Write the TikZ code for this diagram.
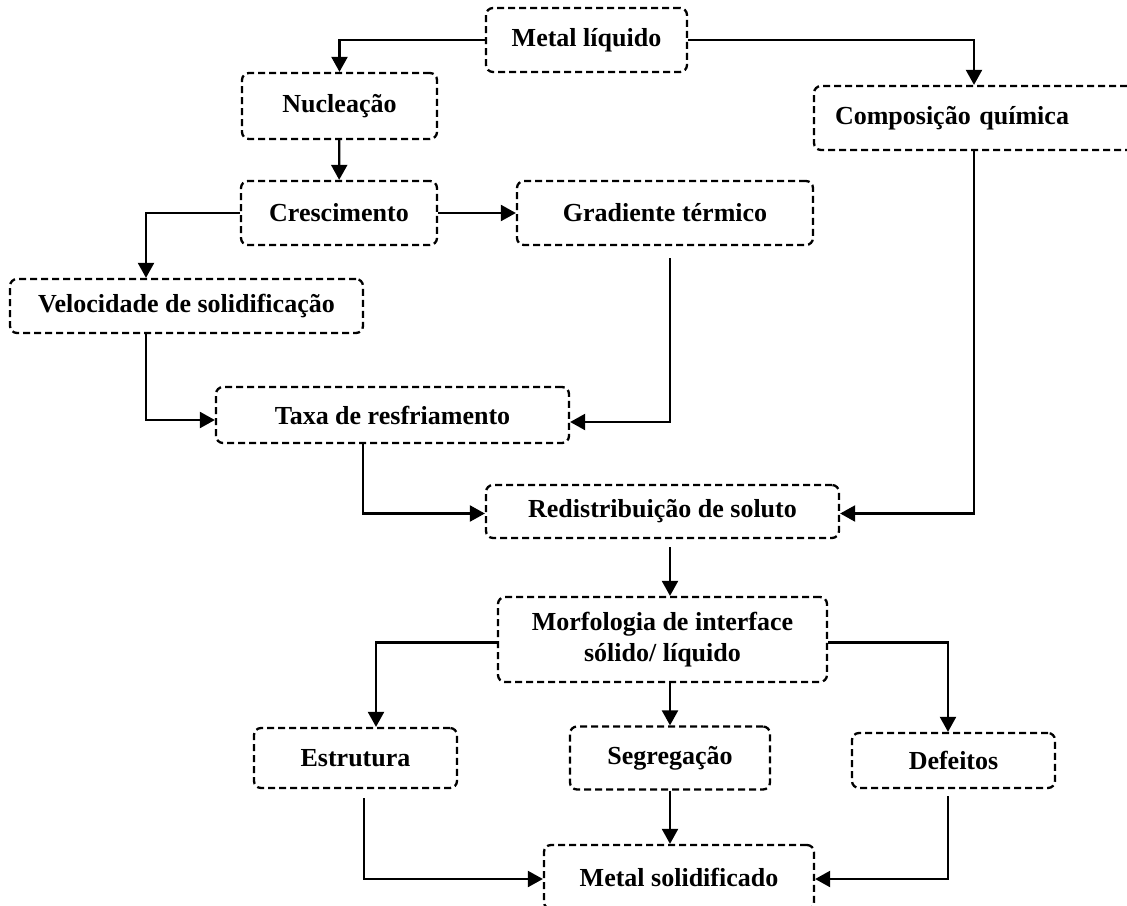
\documentclass[tikz,border=0pt]{standalone}
\usepackage{fontspec}
\setmainfont{Liberation Serif}
\usetikzlibrary{arrows.meta}

\begin{document}
\begin{tikzpicture}[x=1pt,y=-1pt,
  caixa/.style={draw,line width=2.3pt,dash pattern=on 7pt off 4pt,rounded corners=7pt,
    inner sep=0pt,align=center,font=\fontsize{26}{31}\selectfont\bfseries},
  seta/.style={line width=2.3pt,-{Triangle[length=15pt,width=16pt]}}]
\useasboundingbox (0,0) rectangle (1127,905);
\clip (0,0) rectangle (1127,905);

\node[caixa,minimum width=201pt,minimum height=64pt] (liq) at (586.5,40) {Metal líquido};
\node[caixa,minimum width=195pt,minimum height=66pt] (nuc) at (339.5,106) {Nucleação};
\node[caixa,minimum height=64pt,text width=278pt,inner xsep=21pt,align=left] (comp) at (974,118) {Composição química};
\node[caixa,minimum width=196pt,minimum height=64pt] (cres) at (339,213) {Crescimento};
\node[caixa,minimum width=296pt,minimum height=64pt] (grad) at (665,213) {Gradiente térmico};
\node[caixa,minimum width=353pt,minimum height=54pt] (vel) at (186.5,306) {Velocidade de solidificação};
\node[caixa,minimum width=353pt,minimum height=56pt] (taxa) at (392.5,415) {Taxa de resfriamento};
\node[caixa,minimum width=353pt,minimum height=53pt] (red) at (662.5,511.5) {Redistribuição de soluto};
\node[caixa,minimum width=329pt,minimum height=85pt] (morf) at (662.5,639.5) {Morfologia de interface\\sólido/ líquido};
\node[caixa,minimum width=203pt,minimum height=60pt] (est) at (355.5,758) {Estrutura};
\node[caixa,minimum width=200pt,minimum height=63pt] (seg) at (670,758) {Segregação};
\node[caixa,minimum width=203pt,minimum height=55pt] (def) at (953.5,760.5) {Defeitos};
\node[caixa,minimum width=270pt,minimum height=64pt] (sol) at (679,877) {Metal solidificado};

\draw[seta] (liq.west) -| (nuc.north);
\draw[seta] (liq.east) -| (comp.north);
\draw[seta] (nuc) -- (cres);
\draw[seta] (cres.west) -| ([xshift=-40.5pt]vel.north);
\draw[seta] (cres.east) -- (grad.west);
\draw[seta] ([xshift=-40.5pt]vel.south) |- ([yshift=-5pt]taxa.west);
\draw[seta,shorten <=12pt] ([xshift=5pt]grad.south) |- ([yshift=-7pt]taxa.east);
\draw[seta] ([xshift=-29.5pt]taxa.south) |- ([yshift=-2pt]red.west);
\draw[seta] (comp.south) |- ([yshift=-2pt]red.east);
\draw[seta,shorten <=8pt] ([xshift=7.5pt]red.south) -- ([xshift=7.5pt]morf.north);
\draw[seta] ([yshift=-3pt]morf.west) -| ([xshift=20.5pt]est.north);
\draw[seta] ([xshift=7.5pt]morf.south) -- (seg.north);
\draw[seta] ([yshift=-3pt]morf.east) -| ([xshift=-5.5pt]def.north);
\draw[seta,shorten <=9pt] ([xshift=8.5pt]est.south) |- ([yshift=-2pt]sol.west);
\draw[seta] (seg.south) -- (seg.south |- sol.north);
\draw[seta,shorten <=7pt] ([xshift=-5.5pt]def.south) |- ([yshift=-2pt]sol.east);

\end{tikzpicture}
\end{document}
